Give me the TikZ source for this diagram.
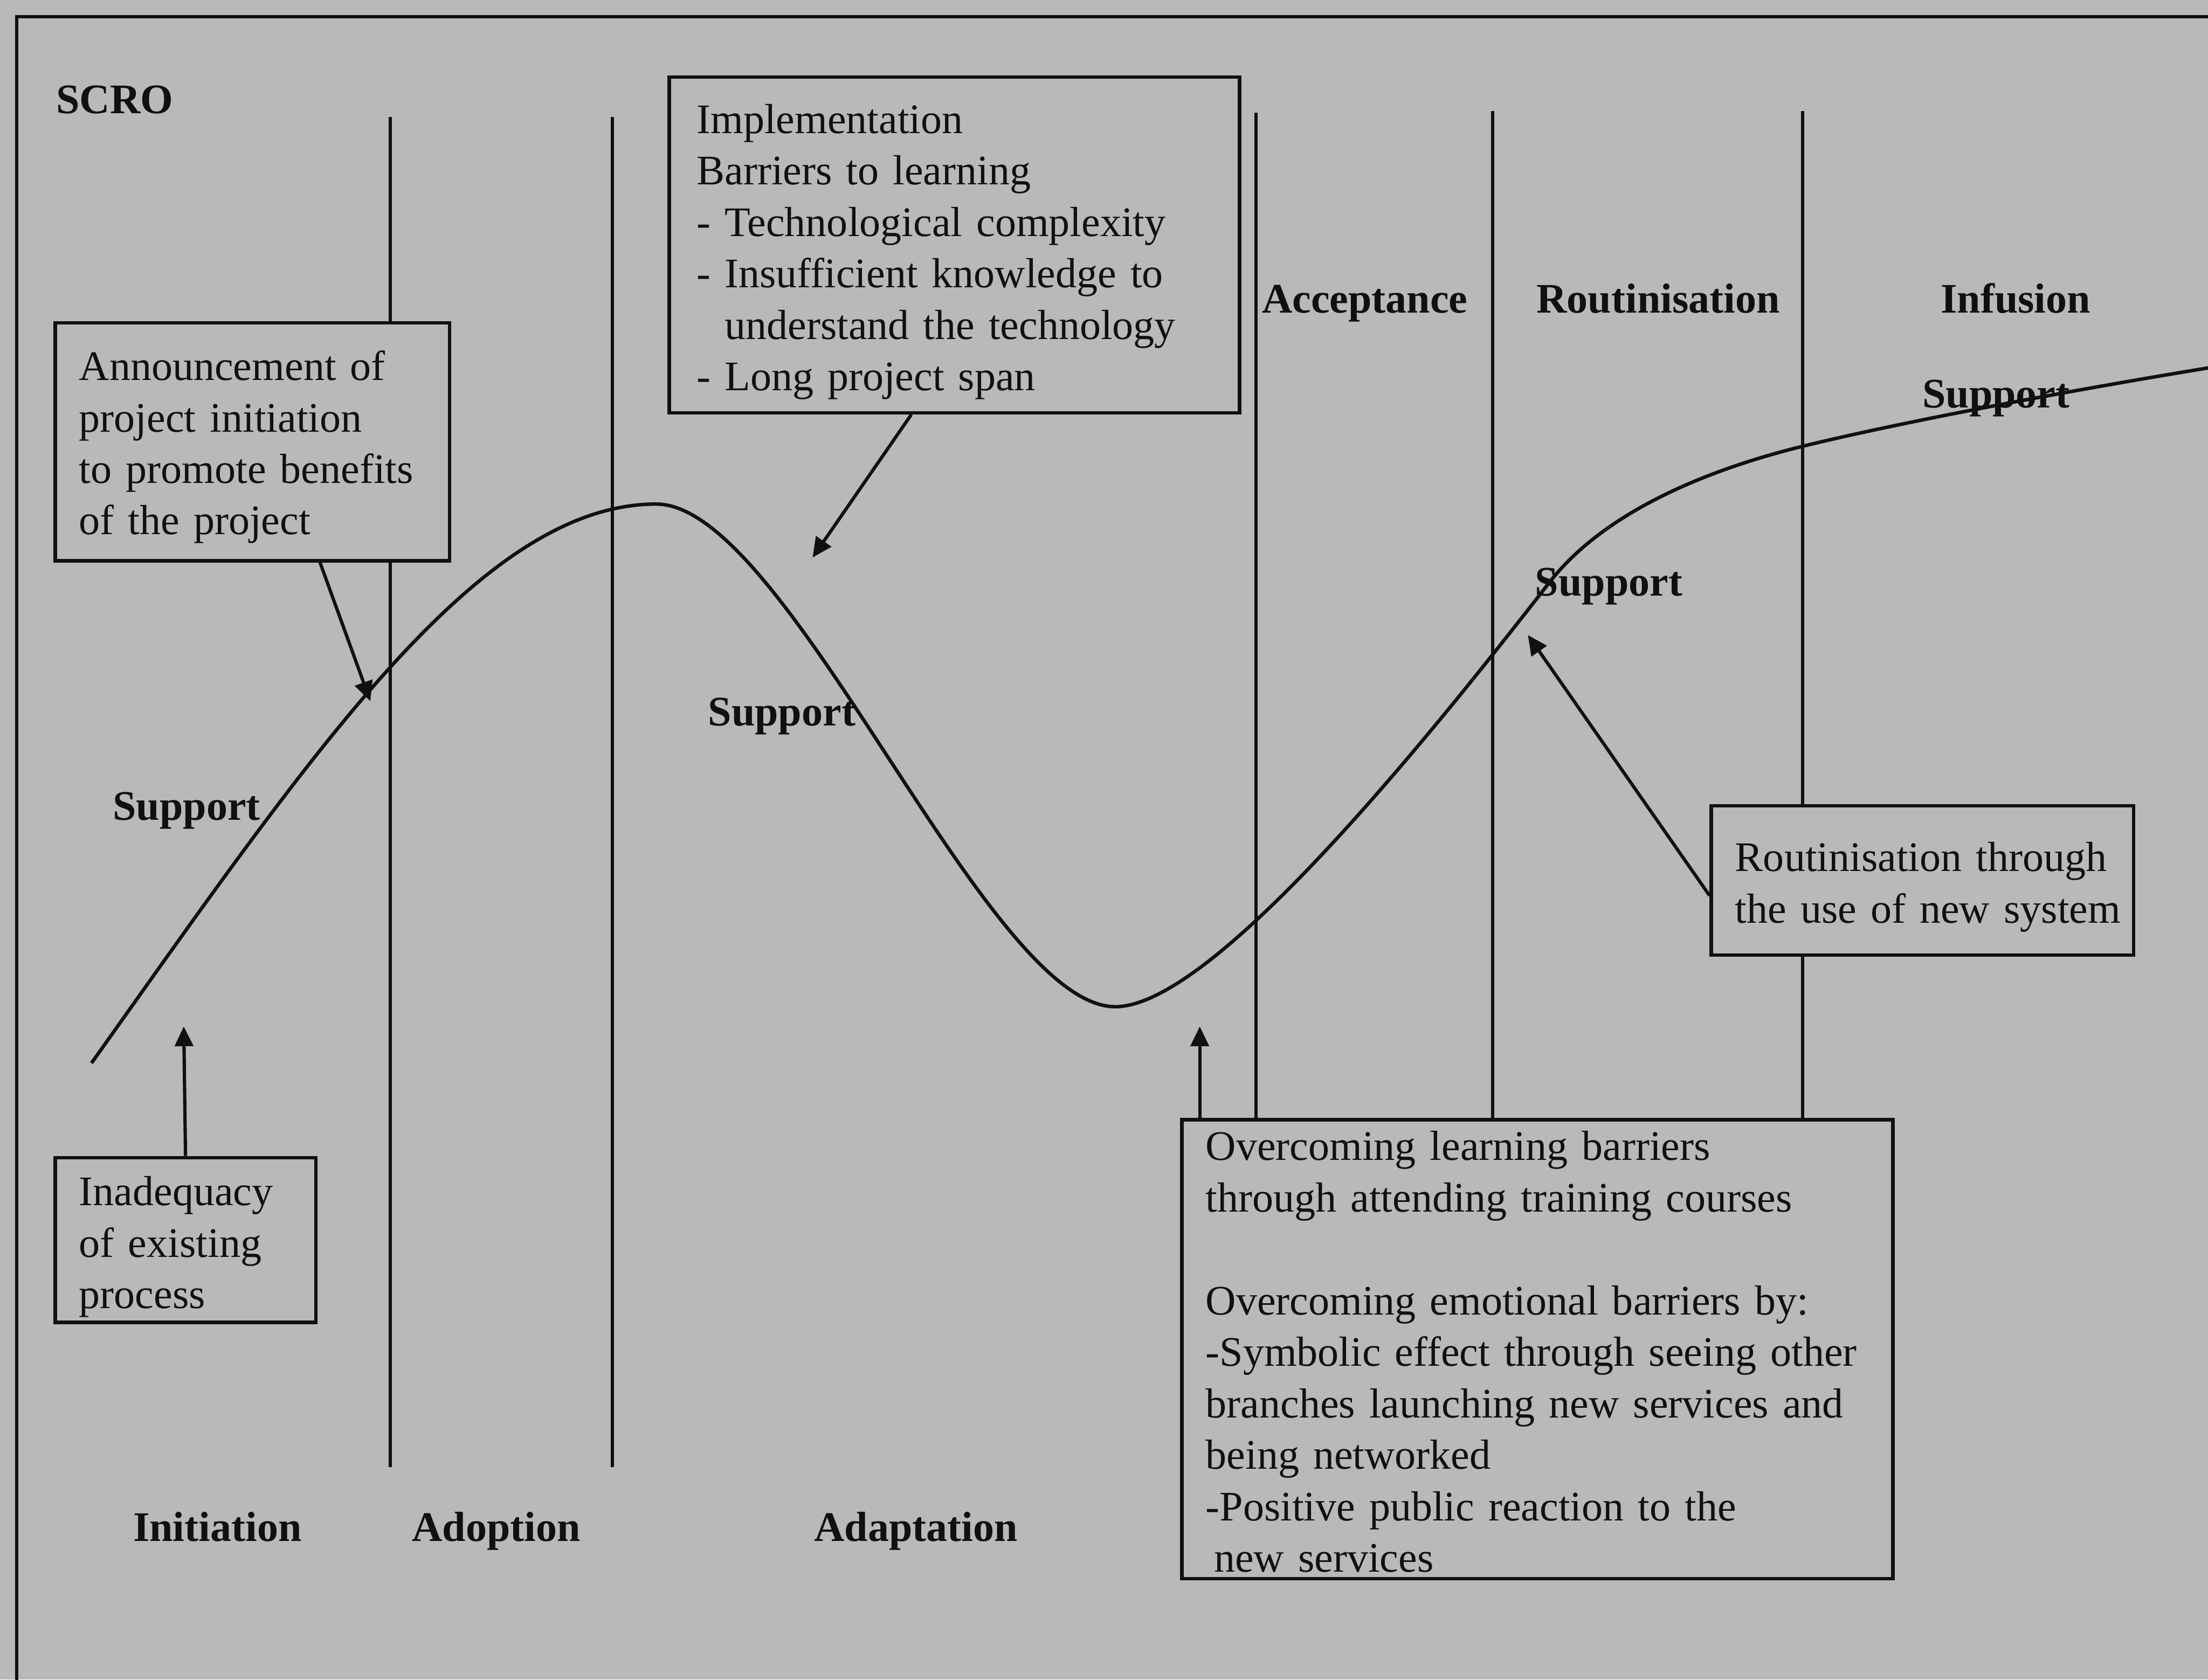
\documentclass[tikz,border=0pt]{standalone}
\usepackage{fontspec}
\setmainfont{Liberation Serif}
\usetikzlibrary{arrows.meta,calc}
\definecolor{paper}{RGB}{185,185,185}
\definecolor{ink}{RGB}{16,16,16}
\begin{document}
\begin{tikzpicture}[x=0.03cm,y=-0.03cm,
  font=\fontsize{25.5}{31.2}\selectfont,
  every node/.style={text=ink},
  stagelbl/.style={font=\fontsize{25.5}{31.2}\selectfont\bfseries, anchor=base west, inner sep=0pt},
  note/.style={draw=ink, line width=2.1pt, fill=paper, anchor=north west, align=left,
               inner xsep=0.51cm, inner ysep=0pt},
  rule/.style={draw=ink, line width=2pt},
  arr/.style={draw=ink, line width=2pt, -{Triangle[length=12pt,width=11pt]}},
]
\useasboundingbox (0,0) rectangle (1568,1193);
\fill[paper] (0,0) rectangle (1568,1193);

% outer frame
\draw[rule, line width=2pt] (12,1200) -- (12,12) -- (1580,12);

% phase dividers
\draw[rule] (277,83) -- (277,1042);
\draw[rule] (435,83) -- (435,1042);
\draw[rule] (892,80) -- (892,794);
\draw[rule] (1060,79) -- (1060,794);
\draw[rule] (1280,79) -- (1280,794);

% support curve
\draw[ink, line width=2.1pt] (65,755) .. controls (220,537) and (340,358) .. (466,358)
  .. controls (560,358) and (700,715) .. (792,715)
  .. controls (860,715) and (1010,530) .. (1100,414)
  .. controls (1140,362.4) and (1215,333) .. (1280,317)
  .. controls (1345,301) and (1460,279) .. (1570,261);

% headings and phase names
\node[stagelbl] (scro) at (39.7,80.7) {SCRO};
\node[stagelbl] (acc) at (896,222.4) {Acceptance};
\node[stagelbl] (rtn) at (1091,222.4) {Routinisation};
\node[stagelbl] (inf) at (1378,222.4) {Infusion};
\node[stagelbl] (ini) at (94.4,1094.5) {Initiation};
\node[stagelbl] (ado) at (292.4,1094.5) {Adoption};
\node[stagelbl] (adp) at (578,1094.5) {Adaptation};

% support labels along the curve
\node[stagelbl] (sup1) at (80,582.5) {Support};
\node[stagelbl] (sup2) at (502.7,515.6) {Support};
\node[stagelbl] (sup3) at (1090,423) {Support};
\node[stagelbl] (sup4) at (1365,289.5) {Support};

% annotation boxes
\node[note, minimum width=8.4cm, minimum height=5.07cm, text width=7.38cm] (ann) at (38,228)
  {\mbox{\rule{0pt}{24.5pt}Announcement of}\\\mbox{project initiation}\\\mbox{to promote benefits}\\\mbox{of the project}};
\node[note, inner xsep=0.585cm, minimum width=12.15cm, minimum height=7.15cm, text width=10.98cm] (impl) at (474,53.6)
  {\mbox{\rule{0pt}{26pt}Implementation}\\\mbox{Barriers to learning}\\\mbox{- Technological complexity}\\
   \mbox{- Insufficient knowledge to}\\\mbox{\hspace*{17pt}understand the technology}\\\mbox{- Long project span}};
\node[note, minimum width=5.55cm, minimum height=3.51cm, text width=4.53cm] (inad) at (38,821)
  {\mbox{\rule{0pt}{26pt}Inadequacy}\\\mbox{of existing}\\\mbox{process}};
\node[note, minimum width=9.0cm, minimum height=3.18cm, text width=7.98cm] (rout) at (1214,571)
  {\mbox{\rule{0pt}{26pt}Routinisation through}\\\mbox{the use of new system}};
\node[note, minimum width=15.15cm, minimum height=9.78cm, text width=14.13cm] (over) at (838,794)
  {\mbox{\rule{0pt}{21pt}Overcoming learning barriers}\\\mbox{through attending training courses}\\[31.2pt]
   \mbox{Overcoming emotional barriers by:}\\\mbox{-Symbolic effect through seeing other}\\
   \mbox{branches launching new services and}\\\mbox{being networked}\\
   \mbox{-Positive public reaction to the}\\\mbox{\hspace*{5pt}new services}};

% arrow targets on the curve
\coordinate (t1) at (263,498);
\coordinate (t2) at (577,396);
\coordinate (t3) at (130.5,729);
\coordinate (t4) at (852,729);
\coordinate (t5) at (1085,451);

% arrows
\draw[arr] ($(ann.south west)!0.67!(ann.south east)$) -- (t1);
\draw[arr] ($(impl.south west)!0.425!(impl.south east)$) -- (t2);
\draw[arr] (inad.north) -- (t3);
\draw[arr] (over.north -| t4) -- (t4);
\draw[arr] ($(rout.north west)!0.6!(rout.south west)$) -- (t5);
\end{tikzpicture}
\end{document}
